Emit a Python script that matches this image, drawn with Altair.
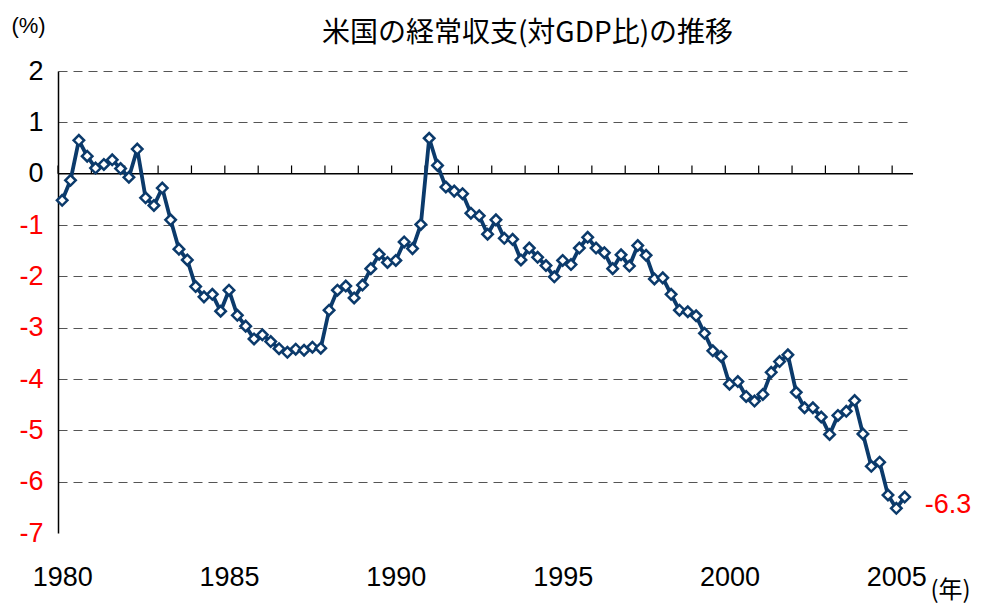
import altair as alt
import pandas as pd

# quarterly US current account balance (% of GDP), 1980Q1 - 2005Q2
values = [-0.52, -0.13, 0.65, 0.34, 0.11, 0.18, 0.27, 0.10, -0.07, 0.48,
          -0.47, -0.62, -0.28, -0.90, -1.47, -1.68, -2.20, -2.40, -2.35, -2.68,
          -2.27, -2.76, -2.97, -3.22, -3.14, -3.27, -3.41, -3.48, -3.42, -3.44,
          -3.38, -3.40, -2.66, -2.27, -2.19, -2.42, -2.17, -1.85, -1.57, -1.73,
          -1.69, -1.33, -1.46, -0.99, 0.69, 0.16, -0.26, -0.34, -0.39, -0.77,
          -0.82, -1.18, -0.90, -1.26, -1.28, -1.68, -1.45, -1.63, -1.79, -2.01,
          -1.69, -1.77, -1.45, -1.24, -1.45, -1.54, -1.85, -1.58, -1.80, -1.40,
          -1.59, -2.05, -2.03, -2.35, -2.66, -2.69, -2.77, -3.11, -3.45, -3.56,
          -4.10, -4.05, -4.34, -4.43, -4.30, -3.87, -3.66, -3.53, -4.26, -4.56,
          -4.56, -4.74, -5.08, -4.71, -4.63, -4.42, -5.07, -5.70, -5.62, -6.26,
          -6.52, -6.30]
start_year = 1980
year_labels = [1980, 1985, 1990, 1995, 2000, 2005]
y_ticks = [2, 1, 0, -1, -2, -3, -4, -5, -6, -7]
tick_years = list(range(1980, 2006))
last_label = "-6.3"

t = [start_year + i / 4 for i in range(len(values))]
df = pd.DataFrame({"t": t, "v": values})
df_last = df.tail(1).assign(label=last_label)
df_ticks = pd.DataFrame({"t": [y - 0.125 for y in tick_years], "v": 0, "v2": 0.16})
df_zero = pd.DataFrame({"v": [0]})

NAVY = "#0b3a6b"
FONT = "Liberation Sans Narrow, Liberation Sans, Arial"

xscale = alt.Scale(domain=[1979.875, 2005.5], nice=False, zero=False)
yscale = alt.Scale(domain=[-7, 2], nice=False, zero=False)

xaxis = alt.Axis(values=year_labels, format="d", labelFont=FONT, labelFontSize=27,
                 labelColor="black", labelPadding=31, ticks=False, domain=False, grid=False,
                 labelFlush=False, labelOverlap=False,
                 title="(年)", titleFont="Noto Sans CJK JP", titleFontSize=24,
                 titleFontWeight="normal", titleAngle=0, titleX=892, titleY=57,
                 titleAlign="center", titleBaseline="middle")
yaxis = alt.Axis(values=y_ticks, labelFont=FONT, labelFontSize=27, labelPadding=15,
                 labelExpr="'' + datum.value",
                 labelColor={"condition": {"test": "datum.value < 0", "value": "#ff0000"}, "value": "black"},
                 ticks=False, domain=True, domainColor="black", domainWidth=1.5,
                 grid=True, gridDash=[9, 6], gridColor="#555555", gridWidth=1.2,
                 gridOpacity={"condition": {"test": "datum.value == 0 || datum.value == -7", "value": 0}, "value": 1},
                 title="(%)", titleFont=FONT, titleFontSize=22, titleFontWeight="normal",
                 titleAngle=0, titleX=-30, titleY=-46, titleAlign="center", titleBaseline="middle")

X = alt.X("t:Q", scale=xscale, axis=xaxis)
Y = alt.Y("v:Q", scale=yscale, axis=yaxis)

zero = alt.Chart(df_zero).mark_rule(color="black", strokeWidth=1.5).encode(y=Y)
ticks = alt.Chart(df_ticks).mark_rule(color="black", strokeWidth=1.2).encode(x=X, y=Y, y2="v2:Q")
line = alt.Chart(df).mark_line(color=NAVY, strokeWidth=3.8).encode(x=X, y=Y)
points = alt.Chart(df).mark_point(shape="diamond", filled=True, fill="white", stroke=NAVY,
                                  strokeWidth=2.5, size=110, opacity=1).encode(x=X, y=Y)
label = alt.Chart(df_last).mark_text(color="#ff0000", font=FONT, fontSize=27, align="left",
                                     baseline="middle", dx=20, dy=8).encode(x=X, y=Y, text="label:N")

chart = alt.layer(zero, ticks, line, points, label).properties(
    width=855, height=462,
    autosize=alt.AutoSizeParams(type="none"),
    padding={"left": 50, "top": 63, "right": 70, "bottom": 74},
    title=alt.TitleParams("米国の経常収支(対GDP比)の推移", font="Noto Sans CJK JP", fontSize=28,
                          fontWeight="normal", anchor="middle", dx=42, offset=-34, color="black"),
).configure_view(stroke=None)

chart.save("out.html", embed_options={"renderer": "svg", "actions": False})
